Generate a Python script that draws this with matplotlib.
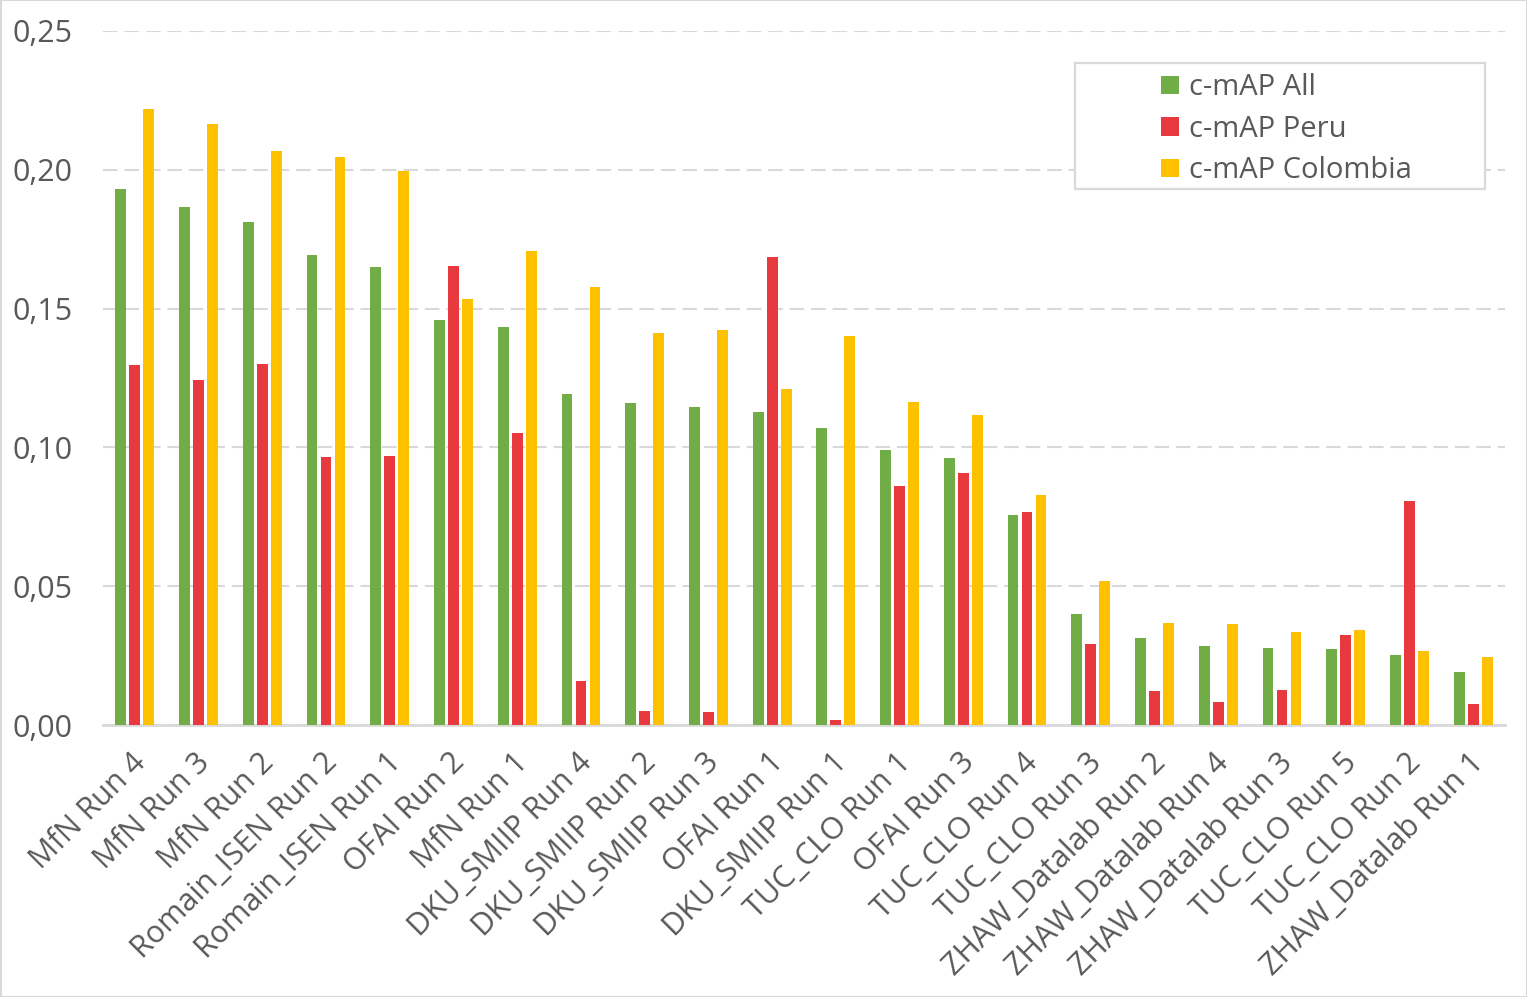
import numpy as np
import matplotlib.pyplot as plt
from matplotlib.patches import Rectangle
from matplotlib.transforms import ScaledTranslation

# -----------------------------------------------------------------------------------
# Datos
runs = ["MfN Run 4", "MfN Run 3", "MfN Run 2", "Romain_ISEN Run 2", "Romain_ISEN Run 1",
        "OFAI Run 2", "MfN Run 1", "DKU_SMIIP Run 4", "DKU_SMIIP Run 2", "DKU_SMIIP Run 3",
        "OFAI Run 1", "DKU_SMIIP Run 1", "TUC_CLO Run 1", "OFAI Run 3", "TUC_CLO Run 4",
        "TUC_CLO Run 3", "ZHAW_Datalab Run 2", "ZHAW_Datalab Run 4", "ZHAW_Datalab Run 3",
        "TUC_CLO Run 5", "TUC_CLO Run 2", "ZHAW_Datalab Run 1"]

cmap_all = [0.193, 0.1866, 0.1812, 0.1693, 0.165, 0.1459, 0.1434, 0.1192, 0.116, 0.1146,
            0.1128, 0.107, 0.099, 0.0962, 0.0756, 0.0400, 0.0313, 0.0285, 0.0277, 0.0274,
            0.0252, 0.0191]
cmap_peru = [0.1297, 0.1243, 0.1300, 0.0965, 0.0969, 0.1653, 0.1052, 0.0159, 0.0050, 0.0047,
             0.1686, 0.0018, 0.0861, 0.0908, 0.0767, 0.0292, 0.0122, 0.0083, 0.0126, 0.0324,
             0.0807, 0.0076]
cmap_colombia = [0.222, 0.2165, 0.2068, 0.2046, 0.1996, 0.1535, 0.1707, 0.1578, 0.1412, 0.1423,
                 0.1210, 0.1401, 0.1164, 0.1117, 0.0829, 0.0519, 0.0367, 0.0364, 0.0335, 0.0342,
                 0.0267, 0.0245]

series = ["c-mAP All", "c-mAP Peru", "c-mAP Colombia"]
colores = ["#70AD47", "#E83A3E", "#FFC000"]

# -----------------------------------------------------------------------------------
# Figura
plt.rcParams["font.family"] = ["Open Sans", "DejaVu Sans"]
texto = "#595959"
gris = "#D9D9D9"

fig = plt.figure(figsize=(15.27, 9.97), dpi=100)
ax = fig.add_axes([103 / 1527, 1 - 725 / 997, (1505 - 103) / 1527, (725 - 31) / 997])

x = np.arange(len(runs))
ancho = 0.17
paso = 0.22
handles = []
for i, (vals, col) in enumerate(zip([cmap_all, cmap_peru, cmap_colombia], colores)):
    h = ax.bar(x + (i - 1) * paso, vals, width=ancho, color=col, label=series[i], zorder=3)
    handles.append(h)

ax.set_xlim(-0.5, len(runs) - 0.5)
ax.set_ylim(0, 0.25)
ax.set_yticks(np.arange(0, 0.2501, 0.05))
ax.set_yticklabels([f"{v:.2f}".replace(".", ",") for v in np.arange(0, 0.2501, 0.05)])
ax.set_xticks(x)
ax.set_xticklabels(runs, rotation=45, ha="right", rotation_mode="anchor")
ax.tick_params(axis="both", length=0, colors=texto)
ax.tick_params(axis="y", pad=22, labelsize=22)
ax.tick_params(axis="x", pad=16, labelsize=22)
desplazamiento = ScaledTranslation(-4 / 100, 0, fig.dpi_scale_trans)
for etiqueta in ax.get_xticklabels():
    etiqueta.set_transform(etiqueta.get_transform() + desplazamiento)

ax.yaxis.grid(True, color=gris, linestyle=(0, (7, 3.3)), linewidth=1.5, zorder=0)
ax.set_axisbelow(True)
for lado in ["top", "right", "left"]:
    ax.spines[lado].set_visible(False)
ax.spines["bottom"].set_color(gris)
ax.spines["bottom"].set_linewidth(2)

# Leyenda con caja al estilo Excel
caja = Rectangle((1075 / 1527, 1 - 189 / 997), 410 / 1527, 126 / 997, transform=fig.transFigure,
                 facecolor="white", edgecolor=gris, linewidth=1.6, zorder=5)
fig.patches.append(caja)
leg = fig.legend(handles=handles, labels=series, loc="upper left",
                 bbox_to_anchor=(1135 / 1527, 1 - 47 / 997), frameon=False, fontsize=21,
                 handlelength=0.6, handleheight=0.6, handletextpad=0.35, labelspacing=0.43)
for t in leg.get_texts():
    t.set_color(texto)
leg.set_zorder(6)

# Borde de la figura
fig.patches.append(Rectangle((0.5 / 1527, 0.5 / 997), 1 - 1 / 1527, 1 - 1 / 997,
                             transform=fig.transFigure, fill=False, edgecolor=gris, linewidth=1.5))

fig.savefig("out.png", dpi=100)
